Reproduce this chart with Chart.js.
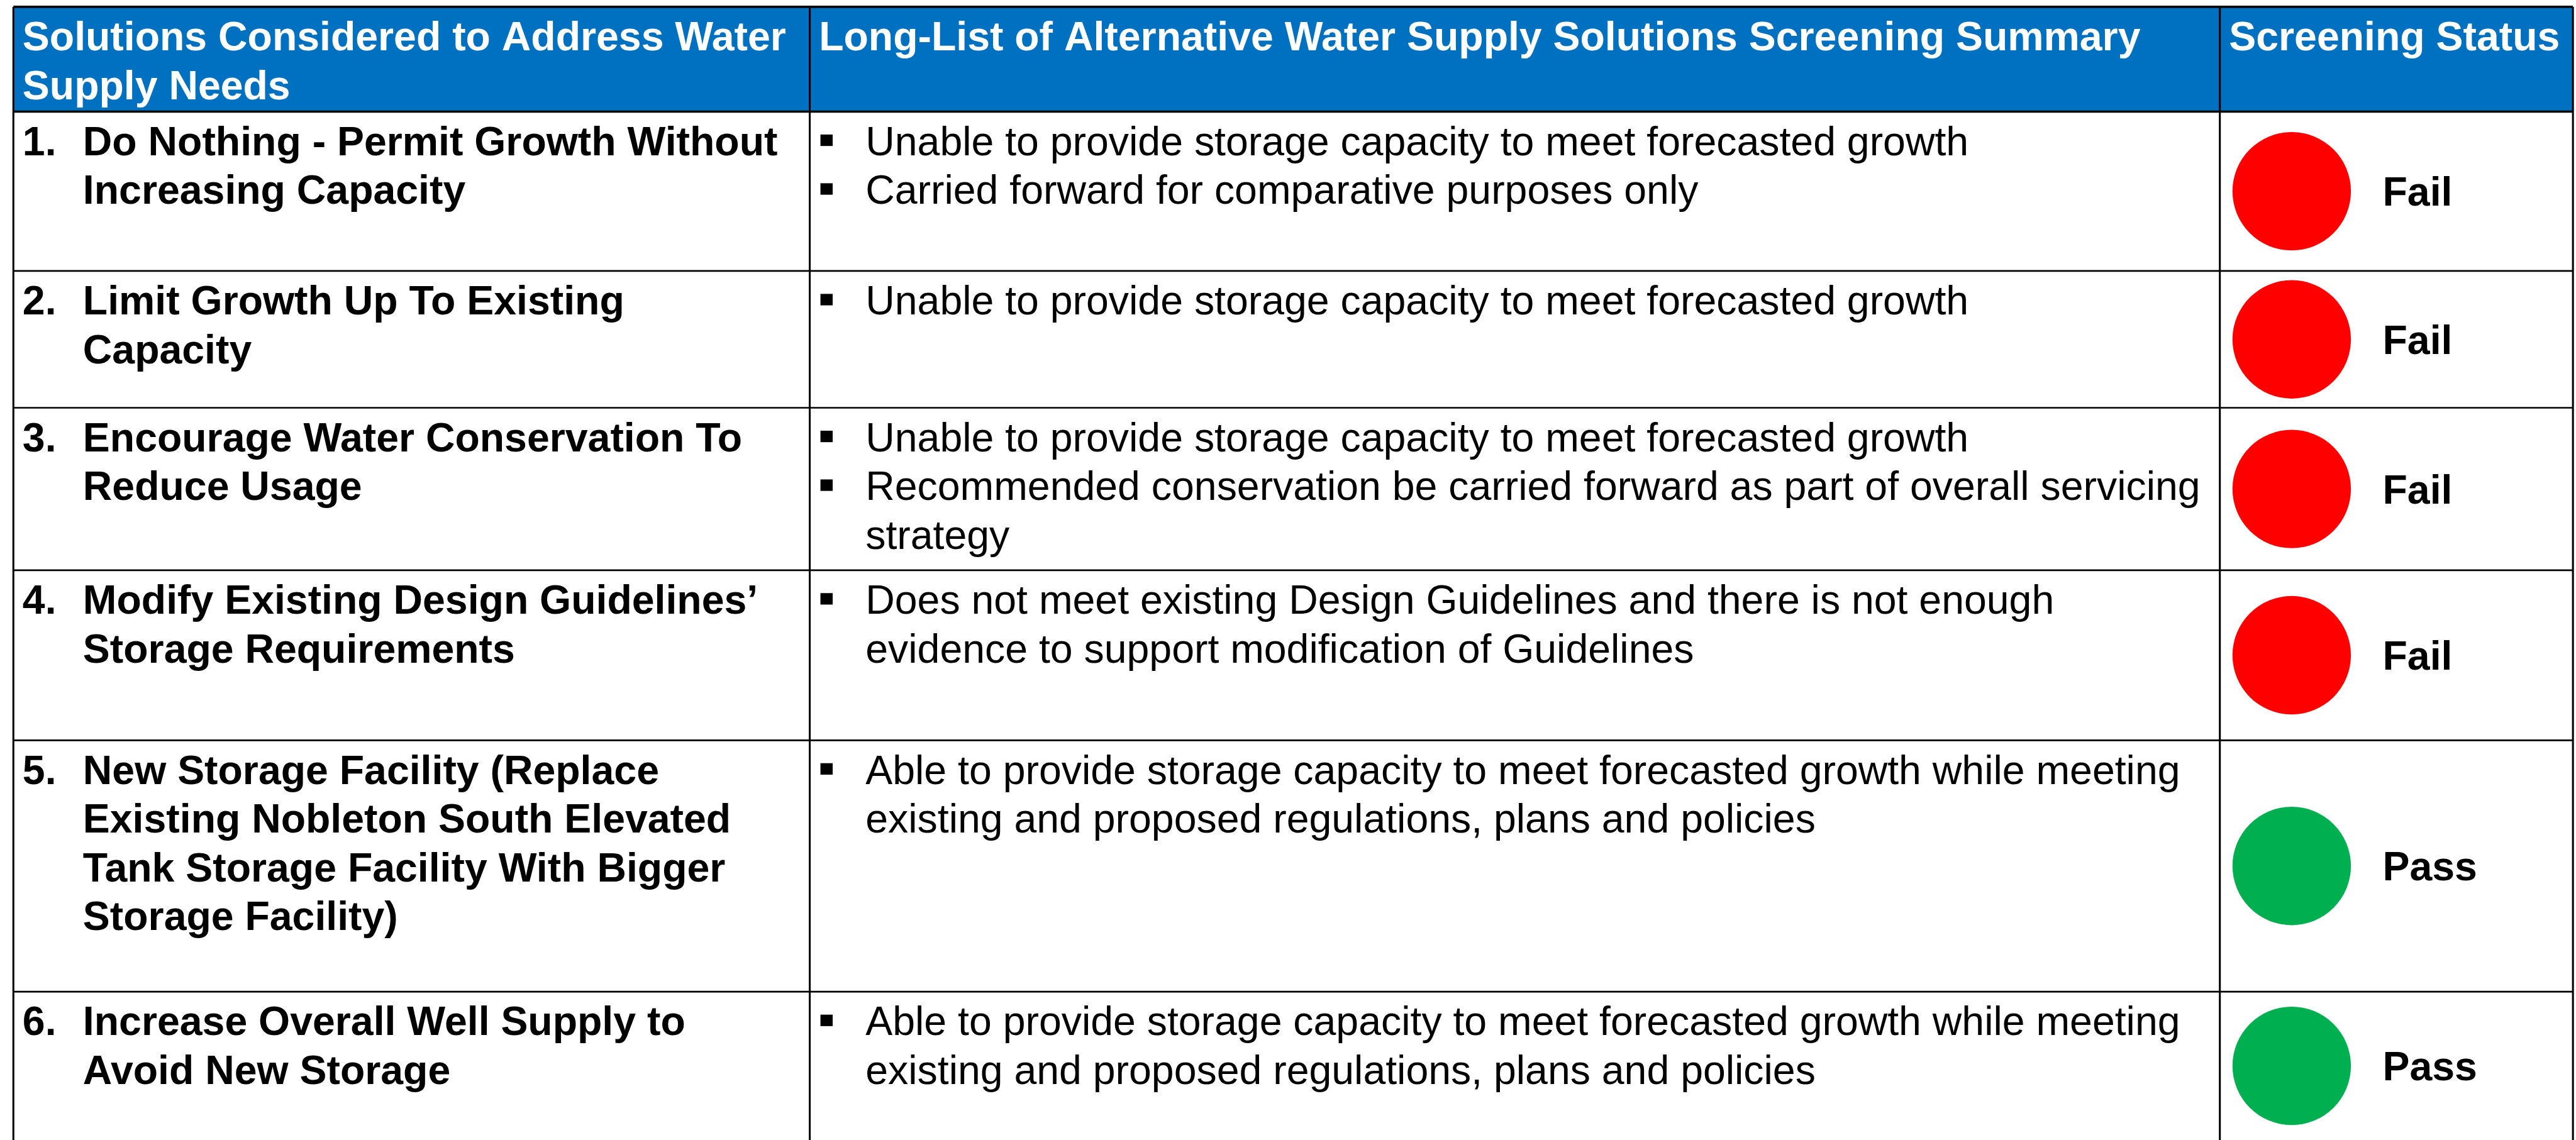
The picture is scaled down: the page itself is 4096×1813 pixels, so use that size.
<!DOCTYPE html>
<html>
<head>
<meta charset="utf-8">
<script src="https://cdn.jsdelivr.net/npm/chart.js@4/dist/chart.umd.min.js"></script>
<style>
html, body { margin: 0; padding: 0; background: #ffffff; }
#wrap { width: 4096px; height: 1813px; position: relative; }
</style>
</head>
<body>
<div id="wrap"><canvas id="myChart"></canvas></div>
<script>
// table content
var headers = [
    ["Solutions Considered to Address Water", "Supply Needs"],
    ["Long-List of Alternative Water Supply Solutions Screening Summary"],
    ["Screening Status"]
];
var solutions = [
    ["Do Nothing - Permit Growth Without", "Increasing Capacity"],
    ["Limit Growth Up To Existing", "Capacity"],
    ["Encourage Water Conservation To", "Reduce Usage"],
    ["Modify Existing Design Guidelines\u2019", "Storage Requirements"],
    ["New Storage Facility (Replace", "Existing Nobleton South Elevated", "Tank Storage Facility With Bigger", "Storage Facility)"],
    ["Increase Overall Well Supply to", "Avoid New Storage"]
];
var summaries = [
    [["Unable to provide storage capacity to meet forecasted growth"], ["Carried forward for comparative purposes only"]],
    [["Unable to provide storage capacity to meet forecasted growth"]],
    [["Unable to provide storage capacity to meet forecasted growth"], ["Recommended conservation be carried forward as part of overall servicing", "strategy"]],
    [["Does not meet existing Design Guidelines and there is not enough", "evidence to support modification of Guidelines"]],
    [["Able to provide storage capacity to meet forecasted growth while meeting", "existing and proposed regulations, plans and policies"]],
    [["Able to provide storage capacity to meet forecasted growth while meeting", "existing and proposed regulations, plans and policies"]]
];
var statuses = ["Fail", "Fail", "Fail", "Fail", "Pass", "Pass"];

// layout, in reference pixels
var W = 6741, H = 2983;
var colEdges = [35, 2119, 5809, 6733];
var rowEdges = [18, 292, 709, 1067, 1492, 1937, 2595, 2983];
var fontRef = 106, lineGap = 127.5, firstBase = 114;
var statusColors = { Fail: "#FF0000", Pass: "#00B050" };
var FONT = '"Liberation Sans", Arial, sans-serif';

var points = statuses.map(function (s, i) {
    return { x: colEdges[2] + 188, y: (rowEdges[i + 1] + rowEdges[i + 2]) / 2 };
});

var tablePlugin = {
    id: 'table',
    beforeDatasetsDraw: function (chart) {
        var c = chart.ctx, sx = chart.scales.x, sy = chart.scales.y;
        var X = function (v) { return sx.getPixelForValue(v); };
        var Y = function (v) { return sy.getPixelForValue(v); };
        var k = (sx.right - sx.left) / W;
        c.save();
        // header fill
        c.fillStyle = "#0070C0";
        c.fillRect(X(colEdges[0]), Y(rowEdges[0]), X(colEdges[3]) - X(colEdges[0]), Y(rowEdges[1]) - Y(rowEdges[0]));
        // grid
        c.strokeStyle = "#000000";
        rowEdges.forEach(function (r, i) {
            if (i == rowEdges.length - 1) return;
            c.lineWidth = (i < 2 ? 6 : 4.5) * k;
            c.beginPath();
            c.moveTo(X(colEdges[0]), Y(r));
            c.lineTo(X(colEdges[3]), Y(r));
            c.stroke();
        });
        colEdges.forEach(function (e) {
            c.lineWidth = 5 * k;
            c.beginPath();
            c.moveTo(X(e), Y(rowEdges[0]));
            c.lineTo(X(e), Y(H));
            c.stroke();
        });
        var fs = fontRef * k;
        // header text
        c.fillStyle = "#FFFFFF";
        c.font = "bold " + fs + "px " + FONT;
        c.textBaseline = "alphabetic";
        headers.forEach(function (lines, j) {
            lines.forEach(function (t, n) {
                c.fillText(t, X(colEdges[j] + 24), Y(rowEdges[0] + firstBase + n * lineGap));
            });
        });
        // body
        c.fillStyle = "#000000";
        solutions.forEach(function (lines, i) {
            var top = rowEdges[i + 1];
            c.font = "bold " + fs + "px " + FONT;
            c.fillText((i + 1) + ".", X(59), Y(top + firstBase));
            lines.forEach(function (t, n) {
                c.fillText(t, X(217), Y(top + firstBase + n * lineGap));
            });
            c.font = fs + "px " + FONT;
            var n = 0;
            summaries[i].forEach(function (bullet) {
                var b = top + firstBase + n * lineGap;
                c.fillRect(X(2147), Y(b - 54), X(2179) - X(2147), Y(b - 24) - Y(b - 54));
                bullet.forEach(function (t) {
                    c.fillText(t, X(2265), Y(top + firstBase + n * lineGap));
                    n++;
                });
            });
            c.font = "bold " + fs + "px " + FONT;
            c.fillText(statuses[i], X(6235), Y(points[i].y + 38));
        });
        c.restore();
    }
};

var ctx = document.getElementById("myChart");
var myChart = new Chart(ctx, {
    type: 'scatter',
    data: {
        datasets: [
            {
                data: points,
                pointRadius: 155 * 4096 / W,
                pointHoverRadius: 155 * 4096 / W,
                pointBorderWidth: 0,
                pointBackgroundColor: statuses.map(function (s) { return statusColors[s]; }),
                pointBorderColor: statuses.map(function (s) { return statusColors[s]; }),
                clip: false
            }
        ]
    },
    options: {
        responsive: true,
        maintainAspectRatio: false,
        animation: false,
        events: [],
        layout: { padding: 0, autoPadding: false },
        scales: {
            x: { type: 'linear', min: 0, max: W, display: false },
            y: { type: 'linear', min: 0, max: H, reverse: true, display: false }
        },
        plugins: {
            legend: { display: false },
            tooltip: { enabled: false }
        }
    },
    plugins: [tablePlugin]
});
</script>
</body>
</html>
